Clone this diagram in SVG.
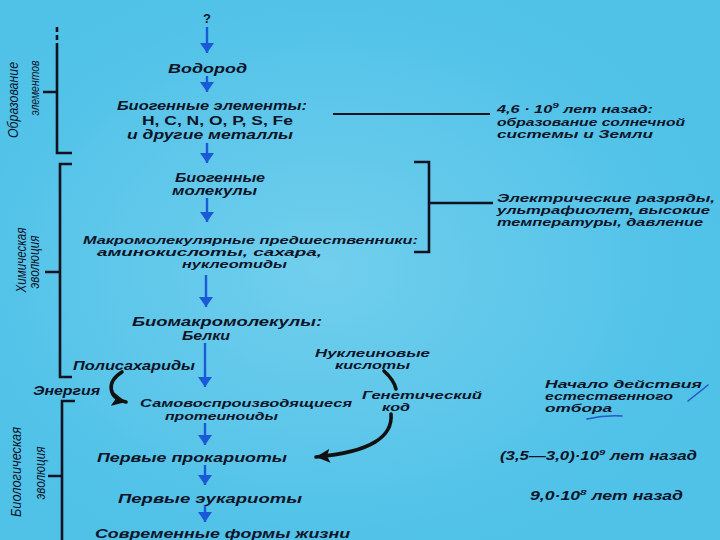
<svg xmlns="http://www.w3.org/2000/svg" width="720" height="540" viewBox="0 0 720 540">
<defs>
<radialGradient id="bgg" cx="0.45" cy="0.5" r="0.6">
<stop offset="0" stop-color="#8ad8f0" stop-opacity="0.6"/>
<stop offset="0.6" stop-color="#74cfee" stop-opacity="0.3"/>
<stop offset="1" stop-color="#4cbde4" stop-opacity="0"/>
</radialGradient>
<marker id="blueHead" markerUnits="userSpaceOnUse" markerWidth="16" markerHeight="14" refX="10" refY="7" orient="auto">
<path d="M0,0 L10,7 L0,14 Z" fill="#1b5ad6"/>
</marker>
<marker id="blackHead" markerUnits="userSpaceOnUse" markerWidth="16" markerHeight="14" refX="14" refY="7" orient="auto">
<path d="M0,0 L14,7 L0,14 L3,7 Z" fill="#111"/>
</marker>
<style>
.t{font-family:"Liberation Sans",Arial,sans-serif;font-weight:bold;font-style:italic;font-size:12px;fill:#0d1428}
.r{font-size:11px}
.u{font-family:"Liberation Sans",Arial,sans-serif;font-weight:bold;font-size:13px;fill:#0d1428}
.s{font-family:"Liberation Sans Narrow","Liberation Sans",Arial,sans-serif;font-style:italic;fill:#0d1428}
.br{fill:none;stroke:#0f1220;stroke-width:2.6}
.ln{fill:none;stroke:#0f1220;stroke-width:1.8}
.ba{fill:none;stroke:#1b5ad6;stroke-width:2.4;marker-end:url(#blueHead)}
.ka{fill:none;stroke:#111;stroke-width:3.6;stroke-linecap:round}
.pen{fill:none;stroke:#2a55c8;stroke-width:1.6;stroke-linecap:round}
</style>
</defs>
<rect width="720" height="540" fill="#50c2e8"/>
<rect width="720" height="540" fill="url(#bgg)"/>

<g id="connectors">
<path class="ba" d="M207,27 V53"/>
<path class="ba" d="M207,76 V92"/>
<path class="ba" d="M207,143 V163"/>
<path class="ba" d="M207,198 V222"/>
<path class="ba" d="M206,275 V307"/>
<path class="ba" d="M205,343 V387"/>
<path class="ba" d="M205,423 V445"/>
<path class="ba" d="M205,465 V485"/>
<path class="ba" d="M205,505 V522"/>
<path class="ka" d="M122,372 C106,382 108,398 126,402" marker-end="url(#blackHead)"/>
<path class="ka" d="M384,371 Q394,380 396,389"/>
<path class="ka" d="M391,414 C393,436 372,452 316,457" marker-end="url(#blackHead)"/>
<path class="ln" d="M333,114 H490"/>
<path class="br" d="M414,162 H429 V252 H414 M429,203 H493"/>
<path class="pen" d="M688,401 L708,385"/>
<path class="pen" d="M587,419 Q605,415 622,416"/>
</g>

<g id="bracket-elements">
<path class="br" d="M57,27 V32 M57,35 V40 M57,43 V153 H72 M43,92 H57"/>
<text class="s" font-size="15" transform="translate(18,100) rotate(-90)" text-anchor="middle" textLength="76" lengthAdjust="spacingAndGlyphs">Образование</text>
<text class="s" font-size="13" transform="translate(39,88) rotate(-90)" text-anchor="middle" textLength="55" lengthAdjust="spacingAndGlyphs">элементов</text>
</g>
<g id="bracket-chemical">
<path class="br" d="M72,164 H60 V377 H72 M45,272 H60"/>
<text class="s" font-size="14" transform="translate(26,260) rotate(-90)" text-anchor="middle" textLength="65" lengthAdjust="spacingAndGlyphs">Химическая</text>
<text class="s" font-size="14" transform="translate(39,262) rotate(-90)" text-anchor="middle" textLength="53" lengthAdjust="spacingAndGlyphs">эволюция</text>
</g>
<g id="bracket-biological">
<path class="br" d="M75,401 H62 V540 M48,476 H62"/>
<text class="s" font-size="14" transform="translate(21,472) rotate(-90)" text-anchor="middle" textLength="90" lengthAdjust="spacingAndGlyphs">Биологическая</text>
<text class="s" font-size="14" transform="translate(45,473) rotate(-90)" text-anchor="middle" textLength="53" lengthAdjust="spacingAndGlyphs">эволюция</text>
</g>

<g id="n-question"><text class="u" font-size="12" x="203" y="23">?</text></g>
<g id="n-hydrogen"><text class="t" font-size="15" x="168" y="73" textLength="79" lengthAdjust="spacingAndGlyphs">Водород</text></g>
<g id="n-bioelements">
<text class="t" x="117" y="110" textLength="190" lengthAdjust="spacingAndGlyphs">Биогенные элементы:</text>
<text class="u" x="142" y="125" textLength="151" lengthAdjust="spacingAndGlyphs">H, C, N, O, P, S, Fe</text>
<text class="t" x="127" y="139" textLength="166" lengthAdjust="spacingAndGlyphs">и другие металлы</text>
</g>
<g id="n-biomolecules">
<text class="t" x="175" y="182" textLength="90" lengthAdjust="spacingAndGlyphs">Биогенные</text>
<text class="t" x="172" y="195" textLength="85" lengthAdjust="spacingAndGlyphs">молекулы</text>
</g>
<g id="n-precursors">
<text class="t r" x="83" y="244" textLength="335" lengthAdjust="spacingAndGlyphs">Макромолекулярные предшественники:</text>
<text class="t r" x="97" y="256" textLength="225" lengthAdjust="spacingAndGlyphs">аминокислоты, сахара,</text>
<text class="t r" x="182" y="268" textLength="105" lengthAdjust="spacingAndGlyphs">нуклеотиды</text>
</g>
<g id="n-macro">
<text class="t" x="132" y="326" textLength="190" lengthAdjust="spacingAndGlyphs">Биомакромолекулы:</text>
<text class="t" x="182" y="340" textLength="48" lengthAdjust="spacingAndGlyphs">Белки</text>
</g>
<g id="n-polysaccharides"><text class="t" x="73" y="370" textLength="122" lengthAdjust="spacingAndGlyphs">Полисахариды</text></g>
<g id="n-nucleic">
<text class="t r" x="315" y="357" textLength="115" lengthAdjust="spacingAndGlyphs">Нуклеиновые</text>
<text class="t r" x="335" y="369" textLength="75" lengthAdjust="spacingAndGlyphs">кислоты</text>
</g>
<g id="n-energy"><text class="t" x="33" y="395" textLength="67" lengthAdjust="spacingAndGlyphs">Энергия</text></g>
<g id="n-proteinoids">
<text class="t r" x="140" y="407" textLength="212" lengthAdjust="spacingAndGlyphs">Самовоспроизводящиеся</text>
<text class="t r" x="165" y="420" textLength="113" lengthAdjust="spacingAndGlyphs">протеиноиды</text>
</g>
<g id="n-code">
<text class="t r" x="362" y="399" textLength="120" lengthAdjust="spacingAndGlyphs">Генетический</text>
<text class="t r" x="382" y="411" textLength="28" lengthAdjust="spacingAndGlyphs">код</text>
</g>
<g id="n-prokaryotes"><text class="t" x="97" y="462" textLength="190" lengthAdjust="spacingAndGlyphs">Первые  прокариоты</text></g>
<g id="n-eukaryotes"><text class="t" x="118" y="503" textLength="184" lengthAdjust="spacingAndGlyphs">Первые  эукариоты</text></g>
<g id="n-modern"><text class="t" x="95" y="538" textLength="255" lengthAdjust="spacingAndGlyphs">Современные формы жизни</text></g>

<g id="n-solar">
<text class="t r" x="497" y="113" textLength="156" lengthAdjust="spacingAndGlyphs">4,6 · 10<tspan font-size="8" dy="-5">9</tspan><tspan dy="5"> лет назад:</tspan></text>
<text class="t r" x="497" y="126" textLength="188" lengthAdjust="spacingAndGlyphs">образование солнечной</text>
<text class="t r" x="497" y="138" textLength="156" lengthAdjust="spacingAndGlyphs">системы и Земли</text>
</g>
<g id="n-energy-sources">
<text class="t r" x="497" y="202" textLength="218" lengthAdjust="spacingAndGlyphs">Электрические разряды,</text>
<text class="t r" x="497" y="214" textLength="213" lengthAdjust="spacingAndGlyphs">ультрафиолет, высокие</text>
<text class="t r" x="497" y="226" textLength="206" lengthAdjust="spacingAndGlyphs">температуры, давление</text>
</g>
<g id="n-selection">
<text class="t r" x="545" y="388" textLength="157" lengthAdjust="spacingAndGlyphs">Начало действия</text>
<text class="t r" x="545" y="400" textLength="128" lengthAdjust="spacingAndGlyphs">естественного</text>
<text class="t r" x="545" y="412" textLength="67" lengthAdjust="spacingAndGlyphs">отбора</text>
</g>
<g id="n-time-prokaryotes"><text class="t" x="500" y="460" textLength="197" lengthAdjust="spacingAndGlyphs">(3,5—3,0)·10<tspan font-size="8" dy="-5">9</tspan><tspan dy="5"> лет назад</tspan></text></g>
<g id="n-time-eukaryotes"><text class="t" x="530" y="500" textLength="153" lengthAdjust="spacingAndGlyphs">9,0·10<tspan font-size="8" dy="-5">8</tspan><tspan dy="5"> лет назад</tspan></text></g>
</svg>
